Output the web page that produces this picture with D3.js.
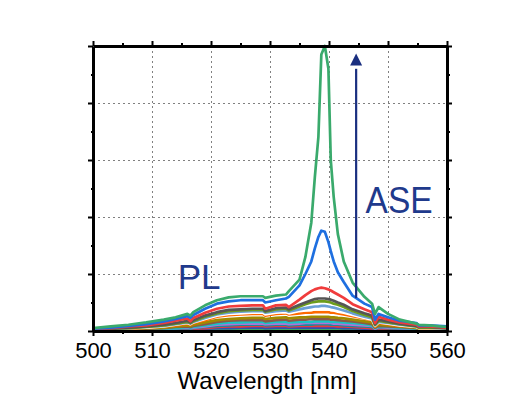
<!DOCTYPE html>
<html>
<head>
<meta charset="utf-8">
<script src="https://cdn.jsdelivr.net/npm/d3@7"></script>
<style>
  html, body { margin: 0; padding: 0; background: #fff; }
  svg { display: block; font-family: "Liberation Sans", Arial, sans-serif; }
</style>
</head>
<body>
<svg id="chart" width="522" height="399"></svg>
<script>
// wavelength sample points [nm]
const wavelengths = [500, 503, 506, 509, 512, 514, 516, 516.5, 517, 519, 521, 523, 525, 527, 528.8, 529.2, 531, 532.7, 533.2, 535,
  536, 537, 537.6, 538.2, 538.7, 539.3, 539.9, 540.3, 540.8, 541.5, 542.5, 544, 546, 547.3, 547.8, 548.4, 550, 552, 554.8, 555.2, 557, 560];

const xTicks = [500, 510, 520, 530, 540, 550, 560];
const xMinorTicks = [505, 515, 525, 535, 545, 555];
const yTicks = [0, 1, 2, 3, 4, 5];
const yMinorTicks = [0.5, 1.5, 2.5, 3.5, 4.5];

// spectra, highest pump first (arbitrary units)
const sGreen = [0.05, 0.08, 0.11, 0.15, 0.2, 0.24, 0.3, 0.27, 0.33, 0.45, 0.54, 0.59, 0.61, 0.61, 0.61, 0.58, 0.62, 0.64, 0.7, 0.9,
  1.3, 1.9, 2.7, 3.4, 4.85, 5.0, 4.6, 3.0, 2.35, 1.7, 1.22, 0.85, 0.6, 0.48, 0.3, 0.42, 0.3, 0.2, 0.13, 0.11, 0.1, 0.07];
const sBlue = [0.04, 0.06, 0.09, 0.12, 0.17, 0.21, 0.26, 0.23, 0.28, 0.39, 0.48, 0.52, 0.54, 0.54, 0.54, 0.5, 0.54, 0.57, 0.6, 0.8,
  1.0, 1.22, 1.45, 1.65, 1.76, 1.74, 1.56, 1.4, 1.22, 1.03, 0.86, 0.62, 0.48, 0.42, 0.2, 0.3, 0.24, 0.18, 0.14, 0.1, 0.1, 0.08];
const sRed = [0.04, 0.05, 0.08, 0.1, 0.14, 0.18, 0.22, 0.17, 0.23, 0.32, 0.39, 0.43, 0.44, 0.45, 0.45, 0.39, 0.45, 0.46, 0.42, 0.55,
  0.63, 0.7, 0.73, 0.75, 0.76, 0.75, 0.73, 0.71, 0.68, 0.64, 0.58, 0.47, 0.38, 0.33, 0.14, 0.25, 0.2, 0.15, 0.11, 0.08, 0.08, 0.06];
const sGray = [0.03, 0.04, 0.06, 0.08, 0.11, 0.14, 0.18, 0.15, 0.19, 0.27, 0.33, 0.37, 0.38, 0.39, 0.39, 0.35, 0.4, 0.41, 0.38, 0.46,
  0.5, 0.54, 0.56, 0.57, 0.57, 0.57, 0.56, 0.55, 0.53, 0.5, 0.46, 0.38, 0.31, 0.27, 0.12, 0.2, 0.17, 0.13, 0.09, 0.07, 0.07, 0.05];
const sOliveGreen = [0.03, 0.04, 0.05, 0.07, 0.1, 0.13, 0.16, 0.14, 0.17, 0.25, 0.31, 0.35, 0.36, 0.37, 0.37, 0.34, 0.38, 0.39, 0.36, 0.43,
  0.47, 0.5, 0.51, 0.52, 0.52, 0.52, 0.51, 0.5, 0.48, 0.46, 0.42, 0.35, 0.28, 0.24, 0.11, 0.18, 0.15, 0.12, 0.08, 0.06, 0.06, 0.05];
const sLightBlue = [0.03, 0.04, 0.05, 0.07, 0.09, 0.12, 0.15, 0.13, 0.16, 0.23, 0.29, 0.32, 0.34, 0.35, 0.35, 0.32, 0.35, 0.36, 0.34, 0.38,
  0.4, 0.42, 0.43, 0.43, 0.44, 0.44, 0.43, 0.42, 0.41, 0.39, 0.36, 0.31, 0.25, 0.22, 0.1, 0.16, 0.14, 0.11, 0.08, 0.06, 0.06, 0.04];
const sWhite = [0.02, 0.03, 0.05, 0.06, 0.08, 0.11, 0.14, 0.12, 0.15, 0.21, 0.27, 0.3, 0.31, 0.32, 0.32, 0.29, 0.32, 0.33, 0.31, 0.35,
  0.36, 0.37, 0.38, 0.38, 0.38, 0.38, 0.38, 0.37, 0.36, 0.34, 0.32, 0.28, 0.23, 0.2, 0.09, 0.15, 0.13, 0.1, 0.07, 0.05, 0.05, 0.04];
const sOrange = [0.02, 0.03, 0.04, 0.06, 0.08, 0.1, 0.13, 0.11, 0.14, 0.19, 0.25, 0.28, 0.29, 0.3, 0.3, 0.27, 0.3, 0.31, 0.29, 0.31,
  0.32, 0.32, 0.33, 0.33, 0.33, 0.33, 0.33, 0.32, 0.32, 0.31, 0.29, 0.26, 0.22, 0.19, 0.08, 0.14, 0.12, 0.09, 0.07, 0.05, 0.05, 0.04];
const sDarkYellow = [0.02, 0.03, 0.04, 0.05, 0.06, 0.08, 0.1, 0.09, 0.11, 0.15, 0.19, 0.21, 0.22, 0.23, 0.23, 0.21, 0.23, 0.24, 0.22, 0.24,
  0.24, 0.25, 0.25, 0.25, 0.25, 0.25, 0.25, 0.24, 0.24, 0.23, 0.22, 0.2, 0.17, 0.15, 0.07, 0.11, 0.1, 0.08, 0.06, 0.04, 0.04, 0.03];
const sBrown = [0.02, 0.02, 0.03, 0.04, 0.05, 0.07, 0.08, 0.07, 0.09, 0.12, 0.16, 0.18, 0.19, 0.19, 0.19, 0.17, 0.19, 0.2, 0.18, 0.2,
  0.2, 0.21, 0.21, 0.21, 0.21, 0.21, 0.21, 0.2, 0.2, 0.19, 0.18, 0.17, 0.14, 0.12, 0.06, 0.09, 0.08, 0.07, 0.05, 0.04, 0.04, 0.03];
const sCyan = [0.01, 0.02, 0.03, 0.03, 0.04, 0.05, 0.07, 0.06, 0.07, 0.1, 0.13, 0.15, 0.15, 0.16, 0.16, 0.14, 0.16, 0.16, 0.15, 0.16,
  0.16, 0.16, 0.17, 0.17, 0.17, 0.17, 0.17, 0.16, 0.16, 0.16, 0.15, 0.14, 0.12, 0.1, 0.05, 0.08, 0.07, 0.06, 0.04, 0.03, 0.03, 0.02];
const sViolet = [0.01, 0.02, 0.02, 0.03, 0.04, 0.05, 0.06, 0.05, 0.06, 0.08, 0.11, 0.12, 0.13, 0.13, 0.13, 0.12, 0.13, 0.13, 0.12, 0.13,
  0.14, 0.14, 0.14, 0.14, 0.14, 0.14, 0.14, 0.14, 0.13, 0.13, 0.12, 0.11, 0.1, 0.09, 0.04, 0.07, 0.06, 0.05, 0.04, 0.03, 0.03, 0.02];
const sTeal = [0.01, 0.01, 0.02, 0.02, 0.03, 0.04, 0.05, 0.04, 0.05, 0.07, 0.09, 0.1, 0.11, 0.11, 0.11, 0.1, 0.11, 0.11, 0.1, 0.11,
  0.11, 0.11, 0.12, 0.12, 0.12, 0.12, 0.12, 0.11, 0.11, 0.11, 0.1, 0.09, 0.08, 0.07, 0.03, 0.06, 0.05, 0.04, 0.03, 0.02, 0.02, 0.02];
const sRed2 = [0.01, 0.01, 0.01, 0.02, 0.02, 0.03, 0.04, 0.03, 0.04, 0.05, 0.07, 0.08, 0.08, 0.09, 0.09, 0.08, 0.09, 0.09, 0.08, 0.09,
  0.09, 0.09, 0.09, 0.09, 0.09, 0.09, 0.09, 0.09, 0.09, 0.08, 0.08, 0.07, 0.06, 0.05, 0.02, 0.04, 0.04, 0.03, 0.02, 0.02, 0.02, 0.01];
const sNavy = [0.01, 0.01, 0.01, 0.01, 0.02, 0.02, 0.03, 0.02, 0.03, 0.04, 0.05, 0.05, 0.06, 0.06, 0.06, 0.05, 0.06, 0.06, 0.06, 0.06,
  0.06, 0.06, 0.06, 0.06, 0.06, 0.06, 0.06, 0.06, 0.06, 0.06, 0.05, 0.05, 0.04, 0.04, 0.02, 0.03, 0.03, 0.02, 0.02, 0.01, 0.01, 0.01];
const sGreen2 = [0, 0.01, 0.01, 0.01, 0.01, 0.01, 0.02, 0.01, 0.02, 0.02, 0.03, 0.03, 0.04, 0.04, 0.04, 0.03, 0.04, 0.04, 0.04, 0.04,
  0.04, 0.04, 0.04, 0.04, 0.04, 0.04, 0.04, 0.04, 0.04, 0.04, 0.03, 0.03, 0.03, 0.02, 0.01, 0.02, 0.02, 0.01, 0.01, 0.01, 0.01, 0.01];

const spectra = [sGreen, sBlue, sRed, sGray, sOliveGreen, sLightBlue, sWhite, sOrange, sDarkYellow, sBrown, sCyan, sViolet, sTeal, sRed2, sNavy, sGreen2];
const colors = ["#3aaa6c", "#1e6fe0", "#f03c3c", "#555555", "#6c9c1c", "#6a9fd6", "#ffffff", "#ff6a00", "#a08a00", "#8a5a48",
  "#18c4c4", "#b070d8", "#1a8a9a", "#e83a3a", "#3050b0", "#40a860"];

const svg = d3.select("#chart");
const margin = { top: 46, right: 75, bottom: 68, left: 93 };
const width = 522, height = 399;

const x = d3.scaleLinear().domain([500, 560]).range([margin.left, width - margin.right]);
const y = d3.scaleLinear().domain([0, 5]).range([height - margin.bottom, margin.top]);

// grid
const grid = svg.append("g")
  .attr("stroke", "#808080")
  .attr("stroke-width", 1)
  .attr("stroke-dasharray", "2,3");
grid.selectAll("line.gx")
  .data(xTicks.slice(1, -1))
  .enter().append("line")
  .attr("x1", d => Math.round(x(d)) + 0.5).attr("x2", d => Math.round(x(d)) + 0.5)
  .attr("y1", y(5)).attr("y2", y(0));
grid.selectAll("line.gy")
  .data(yTicks.slice(1, -1))
  .enter().append("line")
  .attr("y1", d => Math.round(y(d)) + 0.5).attr("y2", d => Math.round(y(d)) + 0.5)
  .attr("x1", x(500)).attr("x2", x(560));

// spectra
svg.append("clipPath").attr("id", "clip")
  .append("rect")
  .attr("x", x(500)).attr("y", y(5) - 2)
  .attr("width", x(560) - x(500)).attr("height", y(0) - y(5) + 2);

const line = d3.line()
  .x((d, i) => x(wavelengths[i]))
  .y(d => y(d));

const series = spectra.map((values, i) => ({ values, color: colors[i] })).reverse();

svg.append("g")
  .attr("clip-path", "url(#clip)")
  .selectAll("path")
  .data(series)
  .enter().append("path")
  .attr("d", d => line(d.values))
  .attr("fill", "none")
  .attr("stroke", d => d.color)
  .attr("stroke-width", 2.7)
  .attr("stroke-linejoin", "round");

// axes
function styleAxis(g, w) {
  g.select(".domain").attr("stroke-width", w).attr("stroke", "#000");
  g.selectAll(".tick line").attr("stroke-width", 2).attr("stroke", "#000");
}

const bottomAxis = svg.append("g")
  .attr("transform", `translate(0,${y(0)})`)
  .call(d3.axisBottom(x).tickValues(xTicks).tickSize(5).tickSizeOuter(0).tickPadding(6).tickFormat(d3.format("d")));
styleAxis(bottomAxis, 3);
bottomAxis.selectAll("text")
  .attr("font-size", "22px")
  .attr("fill", "#000")
  .attr("font-family", "Liberation Sans, Arial, sans-serif");

svg.append("g")
  .attr("transform", `translate(0,${y(0)})`)
  .call(d3.axisBottom(x).tickValues(xMinorTicks).tickSize(3).tickFormat(""))
  .call(g => g.select(".domain").remove())
  .call(g => g.selectAll(".tick line").attr("stroke-width", 2));

const topAxis = svg.append("g")
  .attr("transform", `translate(0,${y(5)})`)
  .call(d3.axisTop(x).tickValues(xTicks).tickSize(5).tickSizeOuter(0).tickFormat(""));
styleAxis(topAxis, 3);
svg.append("g")
  .attr("transform", `translate(0,${y(5)})`)
  .call(d3.axisTop(x).tickValues(xMinorTicks).tickSize(3).tickFormat(""))
  .call(g => g.select(".domain").remove())
  .call(g => g.selectAll(".tick line").attr("stroke-width", 2));

const leftAxis = svg.append("g")
  .attr("transform", `translate(${x(500)},0)`)
  .call(d3.axisLeft(y).tickValues(yTicks).tickSize(5).tickSizeOuter(0).tickFormat(""));
styleAxis(leftAxis, 3);
svg.append("g")
  .attr("transform", `translate(${x(500)},0)`)
  .call(d3.axisLeft(y).tickValues(yMinorTicks).tickSize(2).tickFormat(""))
  .call(g => g.select(".domain").remove())
  .call(g => g.selectAll(".tick line").attr("stroke-width", 2));

const rightAxis = svg.append("g")
  .attr("transform", `translate(${x(560)},0)`)
  .call(d3.axisRight(y).tickValues(yTicks).tickSize(5).tickSizeOuter(0).tickFormat(""));
styleAxis(rightAxis, 3);
svg.append("g")
  .attr("transform", `translate(${x(560)},0)`)
  .call(d3.axisRight(y).tickValues(yMinorTicks).tickSize(3).tickFormat(""))
  .call(g => g.select(".domain").remove())
  .call(g => g.selectAll(".tick line").attr("stroke-width", 2));

// axis title
svg.append("text")
  .attr("x", x(529.5))
  .attr("y", 389)
  .attr("text-anchor", "middle")
  .attr("font-size", "24px")
  .attr("fill", "#000")
  .text("Wavelength [nm]");

// ASE arrow
const navy = "#1a2f80";
svg.append("line")
  .attr("x1", x(544.6)).attr("x2", x(544.6))
  .attr("y1", y(0.58)).attr("y2", y(4.6))
  .attr("stroke", navy)
  .attr("stroke-width", 2.2);
svg.append("path")
  .attr("d", `M${x(544.6)},${y(4.87)} L${x(544.6) - 6},${y(4.66)} L${x(544.6) + 6},${y(4.66)} Z`)
  .attr("fill", navy);

svg.append("text")
  .attr("x", x(546.2))
  .attr("y", y(2.07))
  .attr("font-size", "37px")
  .attr("textLength", 67)
  .attr("lengthAdjust", "spacingAndGlyphs")
  .attr("fill", "#1f3a8c")
  .text("ASE");

svg.append("text")
  .attr("x", x(514.35))
  .attr("y", y(0.73))
  .attr("font-size", "35px")
  .attr("fill", "#1f3a8c")
  .text("PL");
</script>
</body>
</html>
